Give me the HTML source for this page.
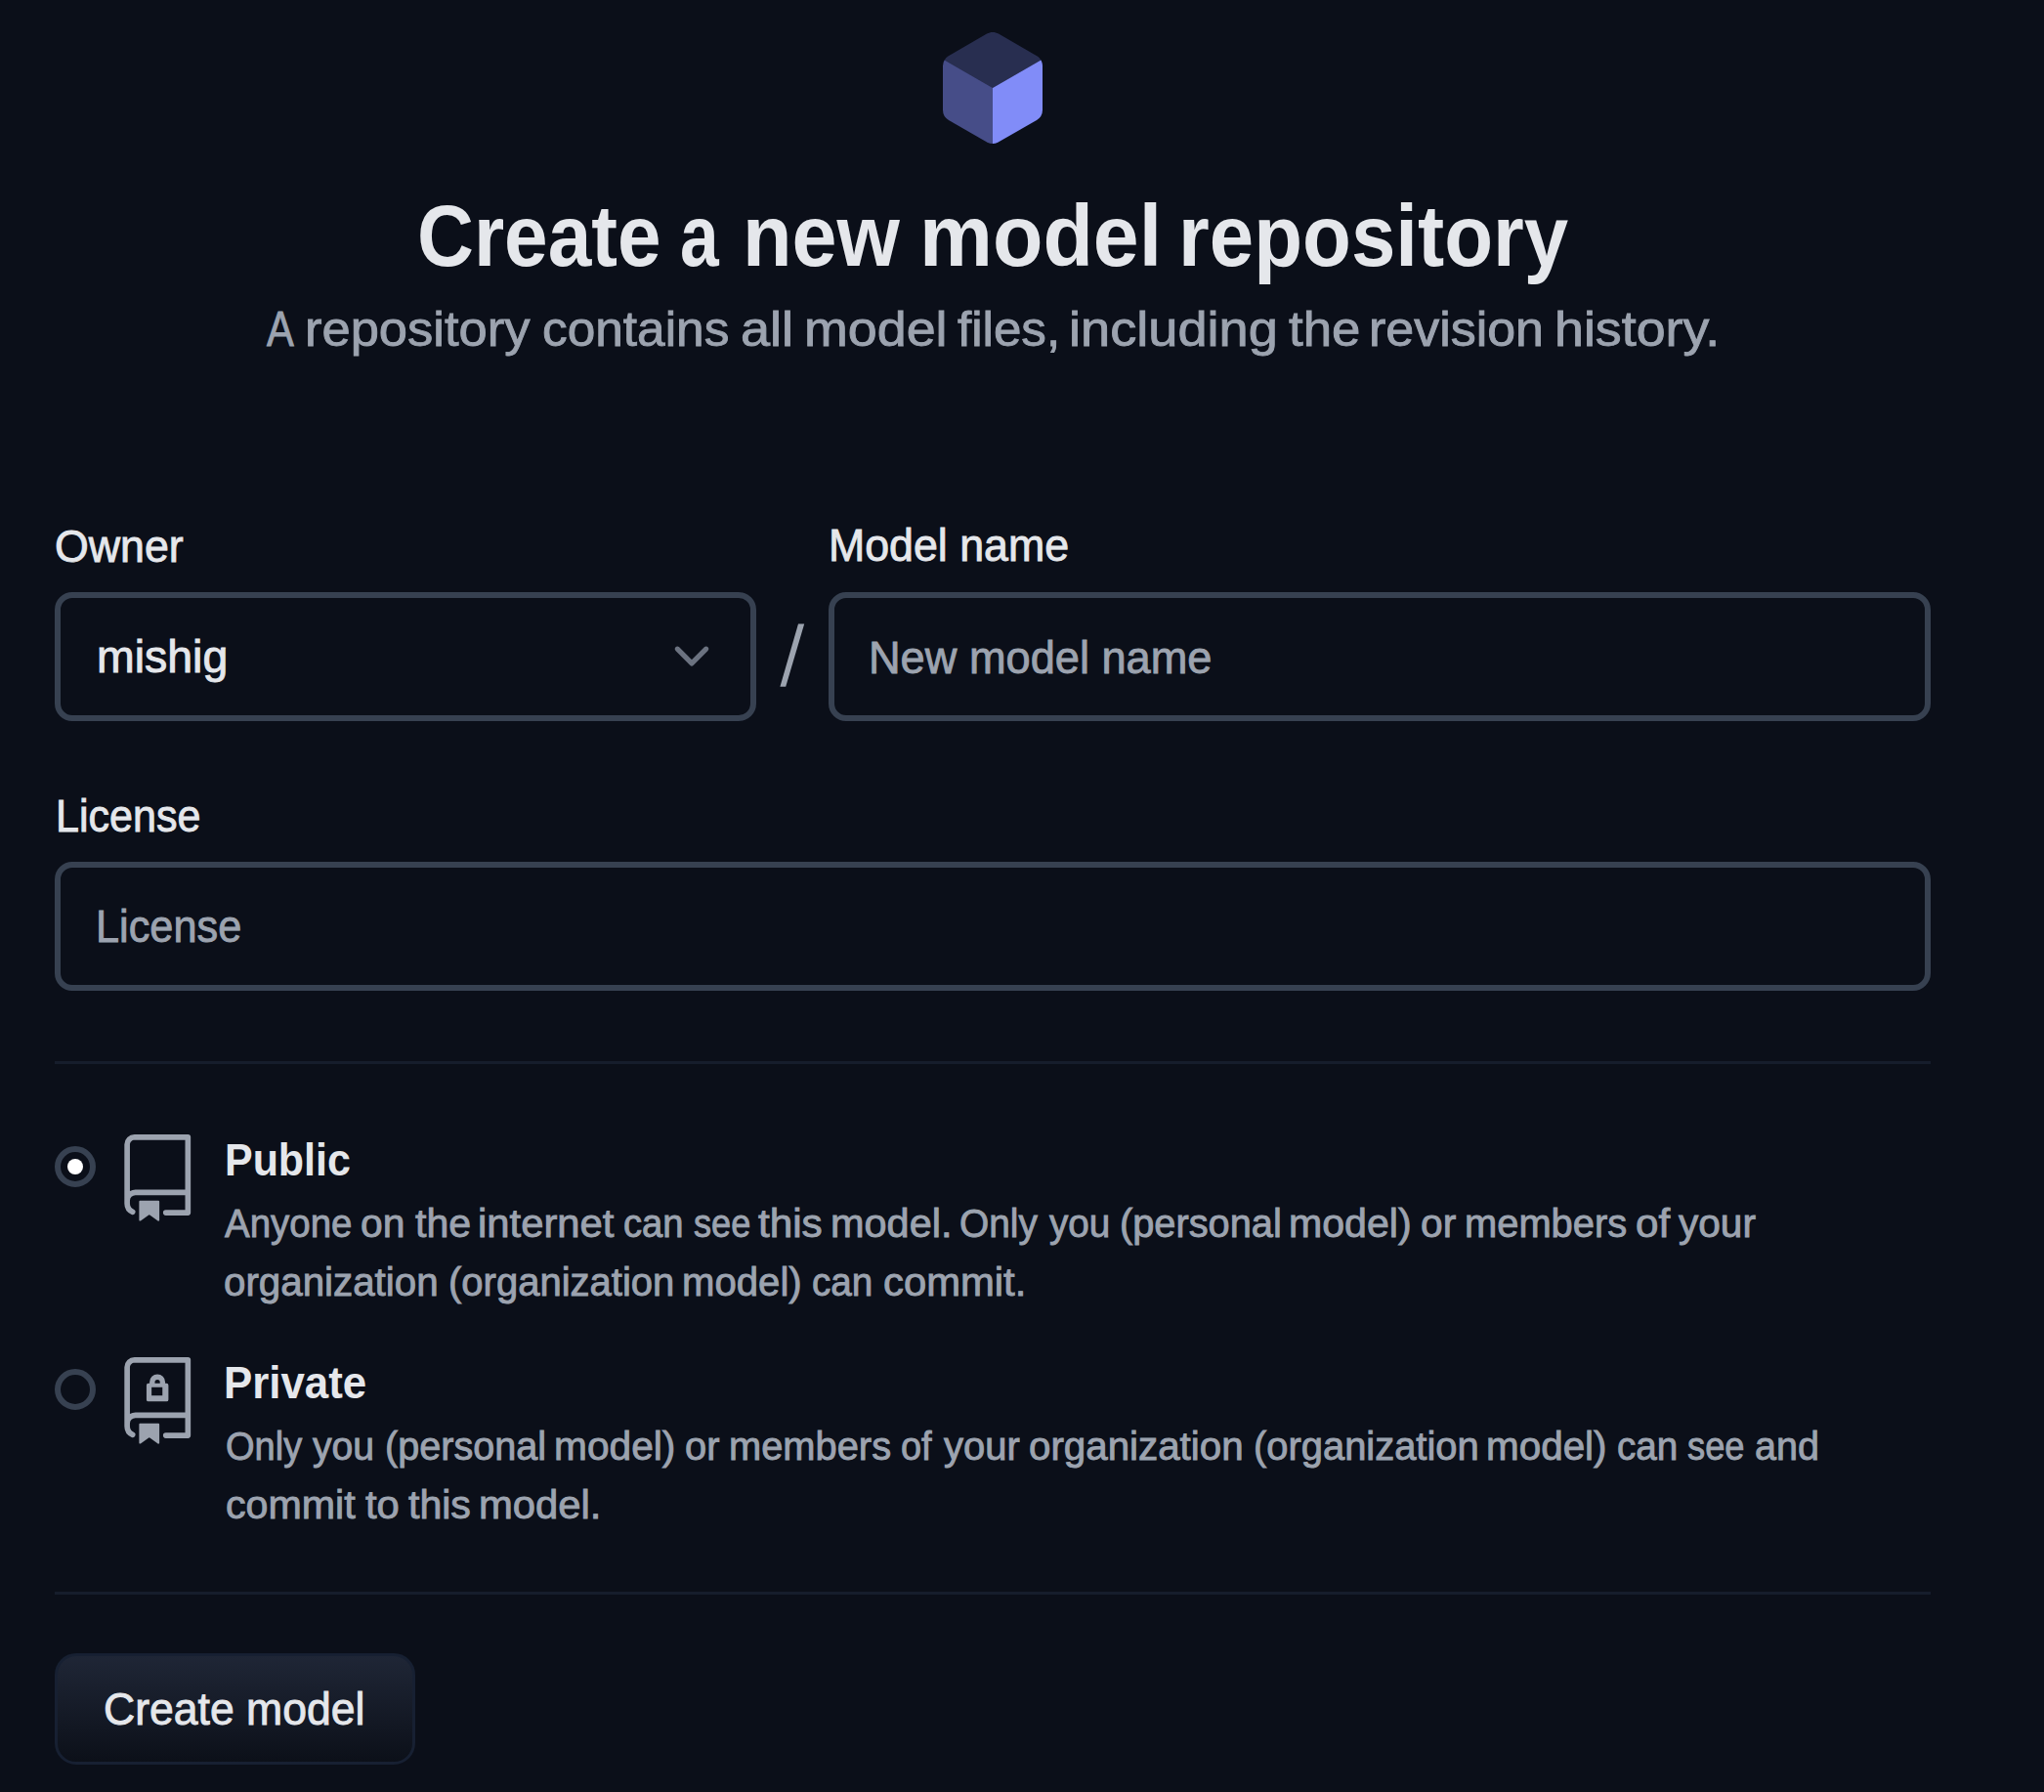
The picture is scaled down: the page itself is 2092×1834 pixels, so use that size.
<!DOCTYPE html>
<html><head><meta charset="utf-8">
<style>
html,body{margin:0;padding:0;}
body{width:2092px;height:1834px;overflow:hidden;background:#0b0f19;position:relative;font-family:"Liberation Sans",sans-serif;}
.t{position:absolute;white-space:nowrap;transform-origin:0 0;}
.box{position:absolute;box-sizing:border-box;border:6px solid #374151;border-radius:18px;}
.hr{position:absolute;left:56px;width:1920px;height:3px;background:#161d2c;}
.radio{position:absolute;left:56px;width:42px;height:42px;box-sizing:border-box;border:6px solid #374151;border-radius:50%;}
svg{position:absolute;overflow:visible;}
</style></head><body>
<svg style="left:943.8px;top:17.9px" width="144" height="144" viewBox="0 0 24 24">
<path d="M20.23 7.24L12 12L3.77 7.24a1.98 1.98 0 0 1 .7-.71L11 2.76c.62-.35 1.38-.35 2 0l6.53 3.77c.29.173.531.418.7.71z" fill="#818cf8" opacity=".25"/>
<path d="M12 12v9.5a2.09 2.09 0 0 1-.91-.21L4.5 17.48a2.003 2.003 0 0 1-1-1.730v-7.5a2.06 2.06 0 0 1 .27-1.01L12 12z" fill="#818cf8" opacity=".5"/>
<path d="M20.5 8.25v7.5a2.003 2.003 0 0 1-1 1.73l-6.62 3.82c-.275.13-.576.198-.88.2V12l8.23-4.76c.175.308.268.656.27 1.01z" fill="#818cf8"/>
</svg>
<div class="box" style="left:56px;top:606px;width:718px;height:132px"></div>
<svg style="left:0;top:0" width="2092" height="1834">
<polyline points="693.3,664.2 708,678.9 722.7,664.2" fill="none" stroke="#6b7280" stroke-width="5.2" stroke-linecap="round" stroke-linejoin="round"/>
<polygon points="817,638.6 823.2,638.6 804.2,702.7 798.4,702.7" fill="#9ca3af"/>
</svg>
<div class="box" style="left:848px;top:606px;width:1128px;height:132px"></div>
<div class="box" style="left:56px;top:882px;width:1920px;height:132px"></div>
<div class="hr" style="top:1086px"></div>
<div class="radio" style="top:1173px"><div style="position:absolute;left:6.75px;top:6.75px;width:16.5px;height:16.5px;border-radius:50%;background:#fff"></div></div>
<svg style="left:115.7px;top:1161px" width="90.48" height="90.48" viewBox="0 0 24 24">
<path fill="#9ca3af" d="M3 2.75A2.75 2.75 0 0 1 5.75 0h14.5a.75.75 0 0 1 .75.75v20.5a.75.75 0 0 1-.75.75h-6a.75.75 0 0 1 0-1.5h5.25v-4H6A1.5 1.5 0 0 0 4.5 18v.75c0 .716.43 1.334 1.05 1.605a.75.75 0 0 1-.6 1.374A3.251 3.251 0 0 1 3 18.75ZM19.5 1.5H5.75c-.69 0-1.25.56-1.25 1.25v12.651A2.989 2.989 0 0 1 6 15h13.5Z"/>
<path fill="#9ca3af" d="M7 18.25a.25.25 0 0 1 .25-.25h5a.25.25 0 0 1 .25.25v5.01a.25.25 0 0 1-.397.201l-2.206-1.604a.25.25 0 0 0-.294 0L7.397 23.46a.25.25 0 0 1-.397-.2v-5.01Z"/>
</svg>
<div class="radio" style="top:1401px"></div>
<svg style="left:115.9px;top:1388.8px" width="90.48" height="90.48" viewBox="0 0 24 24">
<path fill="#9ca3af" d="M3 2.75A2.75 2.75 0 0 1 5.75 0h14.5a.75.75 0 0 1 .75.75v20.5a.75.75 0 0 1-.75.75h-6a.75.75 0 0 1 0-1.5h5.25v-4H6A1.5 1.5 0 0 0 4.5 18v.75c0 .716.43 1.334 1.05 1.605a.75.75 0 0 1-.6 1.374A3.251 3.251 0 0 1 3 18.75ZM19.5 1.5H5.75c-.69 0-1.25.56-1.25 1.25v12.651A2.989 2.989 0 0 1 6 15h13.5Z"/>
<path fill="#9ca3af" d="M7 18.25a.25.25 0 0 1 .25-.25h5a.25.25 0 0 1 .25.25v5.01a.25.25 0 0 1-.397.201l-2.206-1.604a.25.25 0 0 0-.294 0L7.397 23.46a.25.25 0 0 1-.397-.2v-5.01Z"/>
<path fill="#9ca3af" fill-rule="evenodd" d="M9.5 7.11H14.46A.5.5 0 0 1 14.96 7.61V11.52A.5.5 0 0 1 14.46 12.02H9.5A.5.5 0 0 1 9 11.52V7.61A.5.5 0 0 1 9.5 7.11ZM10.38 8.17V10.44H13.33V8.17Z"/><path fill="#9ca3af" d="M9.84 7.2V6.77A2.12 2.12 0 0 1 14.08 6.77V7.2H12.66V6.77A.695 .695 0 0 0 11.27 6.77V7.2Z"/>
</svg>
<div class="hr" style="top:1629px"></div>
<div style="position:absolute;left:56px;top:1692px;width:368.6px;height:114px;box-sizing:border-box;border:3px solid #172032;border-radius:22px;background:linear-gradient(#1f2636,#0c1019)"></div>
<div class="t" style="left:426.94px;top:197.57px;font-size:88.5px;line-height:88.5px;color:#e5e7eb;font-weight:700;transform:scaleX(0.9058)">Create</div>
<div class="t" style="left:695.89px;top:197.57px;font-size:88.5px;line-height:88.5px;color:#e5e7eb;font-weight:700;transform:scaleX(0.8060)">a</div>
<div class="t" style="left:759.90px;top:197.57px;font-size:88.5px;line-height:88.5px;color:#e5e7eb;font-weight:700;transform:scaleX(0.9342)">new</div>
<div class="t" style="left:940.78px;top:197.57px;font-size:88.5px;line-height:88.5px;color:#e5e7eb;font-weight:700;transform:scaleX(0.9521)">model</div>
<div class="t" style="left:1205.72px;top:197.57px;font-size:88.5px;line-height:88.5px;color:#e5e7eb;font-weight:700;transform:scaleX(0.9223)">repository</div>
<div class="t" style="left:273.09px;top:312.17px;font-size:50.0px;line-height:50.0px;color:#9ca3af;font-weight:400;transform:scaleX(0.8325);-webkit-text-stroke:0.9px #9ca3af">A</div>
<div class="t" style="left:311.97px;top:312.17px;font-size:50.0px;line-height:50.0px;color:#9ca3af;font-weight:400;transform:scaleX(1.0497);-webkit-text-stroke:0.9px #9ca3af">repository</div>
<div class="t" style="left:555.49px;top:312.17px;font-size:50.0px;line-height:50.0px;color:#9ca3af;font-weight:400;transform:scaleX(1.0275);-webkit-text-stroke:0.9px #9ca3af">contains</div>
<div class="t" style="left:758.33px;top:312.17px;font-size:50.0px;line-height:50.0px;color:#9ca3af;font-weight:400;transform:scaleX(1.0815);-webkit-text-stroke:0.9px #9ca3af">all</div>
<div class="t" style="left:823.43px;top:312.17px;font-size:50.0px;line-height:50.0px;color:#9ca3af;font-weight:400;transform:scaleX(1.0757);-webkit-text-stroke:0.9px #9ca3af">model</div>
<div class="t" style="left:980.42px;top:312.17px;font-size:50.0px;line-height:50.0px;color:#9ca3af;font-weight:400;transform:scaleX(1.0225);-webkit-text-stroke:0.9px #9ca3af">files,</div>
<div class="t" style="left:1093.83px;top:312.17px;font-size:50.0px;line-height:50.0px;color:#9ca3af;font-weight:400;transform:scaleX(1.0834);-webkit-text-stroke:0.9px #9ca3af">including</div>
<div class="t" style="left:1318.61px;top:312.17px;font-size:50.0px;line-height:50.0px;color:#9ca3af;font-weight:400;transform:scaleX(1.0553);-webkit-text-stroke:0.9px #9ca3af">the</div>
<div class="t" style="left:1401.40px;top:312.17px;font-size:50.0px;line-height:50.0px;color:#9ca3af;font-weight:400;transform:scaleX(1.0388);-webkit-text-stroke:0.9px #9ca3af">revision</div>
<div class="t" style="left:1591.49px;top:312.17px;font-size:50.0px;line-height:50.0px;color:#9ca3af;font-weight:400;transform:scaleX(1.0749);-webkit-text-stroke:0.9px #9ca3af">history.</div>
<div class="t" style="left:56.20px;top:536.13px;font-size:46.5px;line-height:46.5px;color:#e5e7eb;font-weight:400;transform:scaleX(0.9621);-webkit-text-stroke:0.9px #e5e7eb">Owner</div>
<div class="t" style="left:847.98px;top:535.13px;font-size:46.5px;line-height:46.5px;color:#e5e7eb;font-weight:400;transform:scaleX(0.9615);-webkit-text-stroke:0.9px #e5e7eb">Model name</div>
<div class="t" style="left:99.04px;top:649.13px;font-size:46.5px;line-height:46.5px;color:#e5e7eb;font-weight:400;transform:scaleX(0.9993);-webkit-text-stroke:0.9px #e5e7eb">mishig</div>
<div class="t" style="left:889.17px;top:649.63px;font-size:46.5px;line-height:46.5px;color:#9ca3af;font-weight:400;transform:scaleX(0.9714);-webkit-text-stroke:0.9px #9ca3af">New model name</div>
<div class="t" style="left:56.76px;top:811.53px;font-size:46.5px;line-height:46.5px;color:#e5e7eb;font-weight:400;transform:scaleX(0.9260);-webkit-text-stroke:0.9px #e5e7eb">License</div>
<div class="t" style="left:97.94px;top:925.33px;font-size:46.5px;line-height:46.5px;color:#9ca3af;font-weight:400;transform:scaleX(0.9311);-webkit-text-stroke:0.9px #9ca3af">License</div>
<div class="t" style="left:230.44px;top:1162.51px;font-size:47px;line-height:47px;color:#e5e7eb;font-weight:700;transform:scaleX(0.9133)">Public</div>
<div class="t" style="left:230.20px;top:1231.63px;font-size:40.0px;line-height:40.0px;color:#9ca3af;font-weight:400;transform:scaleX(0.9611);-webkit-text-stroke:0.9px #9ca3af">Anyone</div>
<div class="t" style="left:368.85px;top:1231.63px;font-size:40.0px;line-height:40.0px;color:#9ca3af;font-weight:400;transform:scaleX(1.0203);-webkit-text-stroke:0.9px #9ca3af">on</div>
<div class="t" style="left:424.70px;top:1231.63px;font-size:40.0px;line-height:40.0px;color:#9ca3af;font-weight:400;transform:scaleX(1.0259);-webkit-text-stroke:0.9px #9ca3af">the</div>
<div class="t" style="left:489.48px;top:1231.63px;font-size:40.0px;line-height:40.0px;color:#9ca3af;font-weight:400;transform:scaleX(1.0452);-webkit-text-stroke:0.9px #9ca3af">internet</div>
<div class="t" style="left:638.35px;top:1231.63px;font-size:40.0px;line-height:40.0px;color:#9ca3af;font-weight:400;transform:scaleX(0.9551);-webkit-text-stroke:0.9px #9ca3af">can</div>
<div class="t" style="left:709.80px;top:1231.63px;font-size:40.0px;line-height:40.0px;color:#9ca3af;font-weight:400;transform:scaleX(0.9034);-webkit-text-stroke:0.9px #9ca3af">see</div>
<div class="t" style="left:775.89px;top:1231.63px;font-size:40.0px;line-height:40.0px;color:#9ca3af;font-weight:400;transform:scaleX(1.0552);-webkit-text-stroke:0.9px #9ca3af">this</div>
<div class="t" style="left:849.82px;top:1231.63px;font-size:40.0px;line-height:40.0px;color:#9ca3af;font-weight:400;transform:scaleX(1.0366);-webkit-text-stroke:0.9px #9ca3af">model.</div>
<div class="t" style="left:982.49px;top:1231.63px;font-size:40.0px;line-height:40.0px;color:#9ca3af;font-weight:400;transform:scaleX(0.9709);-webkit-text-stroke:0.9px #9ca3af">Only</div>
<div class="t" style="left:1074.02px;top:1231.63px;font-size:40.0px;line-height:40.0px;color:#9ca3af;font-weight:400;transform:scaleX(0.9667);-webkit-text-stroke:0.9px #9ca3af">you</div>
<div class="t" style="left:1146.38px;top:1231.63px;font-size:40.0px;line-height:40.0px;color:#9ca3af;font-weight:400;transform:scaleX(0.9943);-webkit-text-stroke:0.9px #9ca3af">(personal</div>
<div class="t" style="left:1318.95px;top:1231.63px;font-size:40.0px;line-height:40.0px;color:#9ca3af;font-weight:400;transform:scaleX(1.0278);-webkit-text-stroke:0.9px #9ca3af">model)</div>
<div class="t" style="left:1453.66px;top:1231.63px;font-size:40.0px;line-height:40.0px;color:#9ca3af;font-weight:400;transform:scaleX(1.0187);-webkit-text-stroke:0.9px #9ca3af">or</div>
<div class="t" style="left:1498.66px;top:1231.63px;font-size:40.0px;line-height:40.0px;color:#9ca3af;font-weight:400;transform:scaleX(0.9967);-webkit-text-stroke:0.9px #9ca3af">members</div>
<div class="t" style="left:1674.34px;top:1231.63px;font-size:40.0px;line-height:40.0px;color:#9ca3af;font-weight:400;transform:scaleX(1.0544);-webkit-text-stroke:0.9px #9ca3af">of</div>
<div class="t" style="left:1718.22px;top:1231.63px;font-size:40.0px;line-height:40.0px;color:#9ca3af;font-weight:400;transform:scaleX(1.0143);-webkit-text-stroke:0.9px #9ca3af">your</div>
<div class="t" style="left:228.89px;top:1292.43px;font-size:40.0px;line-height:40.0px;color:#9ca3af;font-weight:400;transform:scaleX(1.0075);-webkit-text-stroke:0.9px #9ca3af">organization</div>
<div class="t" style="left:458.59px;top:1292.43px;font-size:40.0px;line-height:40.0px;color:#9ca3af;font-weight:400;transform:scaleX(1.0001);-webkit-text-stroke:0.9px #9ca3af">(organization</div>
<div class="t" style="left:697.94px;top:1292.43px;font-size:40.0px;line-height:40.0px;color:#9ca3af;font-weight:400;transform:scaleX(1.0032);-webkit-text-stroke:0.9px #9ca3af">model)</div>
<div class="t" style="left:830.89px;top:1292.43px;font-size:40.0px;line-height:40.0px;color:#9ca3af;font-weight:400;transform:scaleX(0.9655);-webkit-text-stroke:0.9px #9ca3af">can</div>
<div class="t" style="left:903.58px;top:1292.43px;font-size:40.0px;line-height:40.0px;color:#9ca3af;font-weight:400;transform:scaleX(1.0450);-webkit-text-stroke:0.9px #9ca3af">commit.</div>
<div class="t" style="left:229.16px;top:1390.51px;font-size:47px;line-height:47px;color:#e5e7eb;font-weight:700;transform:scaleX(0.9323)">Private</div>
<div class="t" style="left:230.60px;top:1459.93px;font-size:40.0px;line-height:40.0px;color:#9ca3af;font-weight:400;transform:scaleX(0.9502);-webkit-text-stroke:0.9px #9ca3af">Only</div>
<div class="t" style="left:320.41px;top:1459.93px;font-size:40.0px;line-height:40.0px;color:#9ca3af;font-weight:400;transform:scaleX(0.9791);-webkit-text-stroke:0.9px #9ca3af">you</div>
<div class="t" style="left:394.47px;top:1459.93px;font-size:40.0px;line-height:40.0px;color:#9ca3af;font-weight:400;transform:scaleX(0.9902);-webkit-text-stroke:0.9px #9ca3af">(personal</div>
<div class="t" style="left:567.04px;top:1459.93px;font-size:40.0px;line-height:40.0px;color:#9ca3af;font-weight:400;transform:scaleX(1.0170);-webkit-text-stroke:0.9px #9ca3af">model)</div>
<div class="t" style="left:700.96px;top:1459.93px;font-size:40.0px;line-height:40.0px;color:#9ca3af;font-weight:400;transform:scaleX(0.9963);-webkit-text-stroke:0.9px #9ca3af">or</div>
<div class="t" style="left:746.17px;top:1459.93px;font-size:40.0px;line-height:40.0px;color:#9ca3af;font-weight:400;transform:scaleX(0.9962);-webkit-text-stroke:0.9px #9ca3af">members</div>
<div class="t" style="left:922.07px;top:1459.93px;font-size:40.0px;line-height:40.0px;color:#9ca3af;font-weight:400;transform:scaleX(0.9487);-webkit-text-stroke:0.9px #9ca3af">of</div>
<div class="t" style="left:966.39px;top:1459.93px;font-size:40.0px;line-height:40.0px;color:#9ca3af;font-weight:400;transform:scaleX(0.9991);-webkit-text-stroke:0.9px #9ca3af">your</div>
<div class="t" style="left:1052.69px;top:1459.93px;font-size:40.0px;line-height:40.0px;color:#9ca3af;font-weight:400;transform:scaleX(1.0075);-webkit-text-stroke:0.9px #9ca3af">organization</div>
<div class="t" style="left:1282.89px;top:1459.93px;font-size:40.0px;line-height:40.0px;color:#9ca3af;font-weight:400;transform:scaleX(0.9976);-webkit-text-stroke:0.9px #9ca3af">(organization</div>
<div class="t" style="left:1521.35px;top:1459.93px;font-size:40.0px;line-height:40.0px;color:#9ca3af;font-weight:400;transform:scaleX(1.0106);-webkit-text-stroke:0.9px #9ca3af">model)</div>
<div class="t" style="left:1654.65px;top:1459.93px;font-size:40.0px;line-height:40.0px;color:#9ca3af;font-weight:400;transform:scaleX(0.9655);-webkit-text-stroke:0.9px #9ca3af">can</div>
<div class="t" style="left:1727.39px;top:1459.93px;font-size:40.0px;line-height:40.0px;color:#9ca3af;font-weight:400;transform:scaleX(0.9070);-webkit-text-stroke:0.9px #9ca3af">see</div>
<div class="t" style="left:1795.56px;top:1459.93px;font-size:40.0px;line-height:40.0px;color:#9ca3af;font-weight:400;transform:scaleX(0.9884);-webkit-text-stroke:0.9px #9ca3af">and</div>
<div class="t" style="left:230.60px;top:1520.13px;font-size:40.0px;line-height:40.0px;color:#9ca3af;font-weight:400;transform:scaleX(1.0295);-webkit-text-stroke:0.9px #9ca3af">commit</div>
<div class="t" style="left:374.30px;top:1520.13px;font-size:40.0px;line-height:40.0px;color:#9ca3af;font-weight:400;transform:scaleX(1.0436);-webkit-text-stroke:0.9px #9ca3af">to</div>
<div class="t" style="left:418.29px;top:1520.13px;font-size:40.0px;line-height:40.0px;color:#9ca3af;font-weight:400;transform:scaleX(1.0260);-webkit-text-stroke:0.9px #9ca3af">this</div>
<div class="t" style="left:490.13px;top:1520.13px;font-size:40.0px;line-height:40.0px;color:#9ca3af;font-weight:400;transform:scaleX(1.0449);-webkit-text-stroke:0.9px #9ca3af">model.</div>
<div class="t" style="left:106.39px;top:1726.13px;font-size:46.5px;line-height:46.5px;color:#e5e7eb;font-weight:400;transform:scaleX(0.9581);-webkit-text-stroke:0.9px #e5e7eb">Create model</div>
</body></html>
